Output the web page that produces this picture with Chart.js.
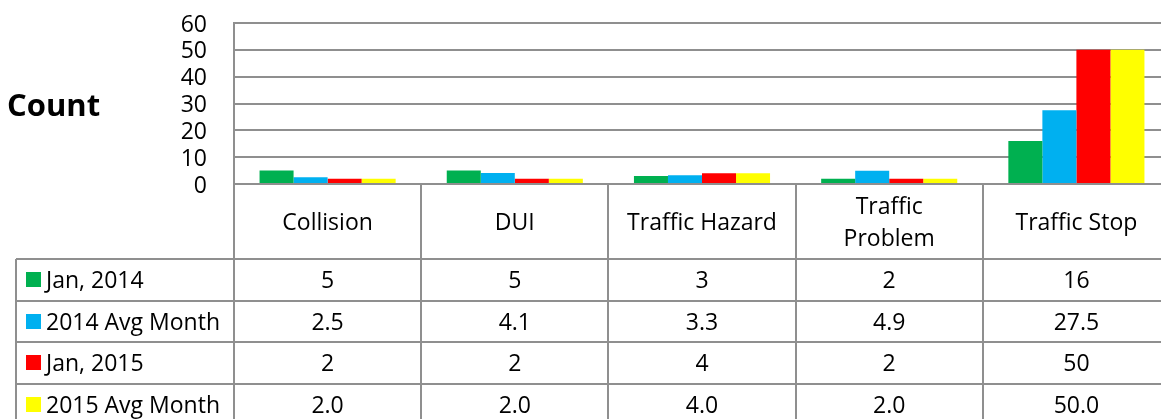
<!DOCTYPE html>
<html>
<head>
<meta charset="utf-8">
<script src="https://cdn.jsdelivr.net/npm/chart.js@4/dist/chart.umd.min.js"></script>
<style>
  html, body { margin: 0; padding: 0; background: #fff; overflow: hidden; }
  #wrap { width: 1161px; height: 419px; overflow: hidden; position: relative; }
  canvas { display: block; }
</style>
</head>
<body>
<div id="wrap"><canvas id="c" width="1170" height="419"></canvas></div>
<script>
// ---- data ----
const categories = ['Collision', 'DUI', 'Traffic Hazard', ['Traffic', 'Problem'], 'Traffic Stop'];
const seriesNames = ['Jan, 2014', '2014 Avg Month', 'Jan, 2015', '2015 Avg Month'];
const jan2014 = [5, 5, 3, 2, 16];
const avg2014 = [2.5, 4.1, 3.3, 4.9, 27.5];
const jan2015 = [2, 2, 4, 2, 50];
const avg2015 = [2.0, 2.0, 4.0, 2.0, 50.0];
const seriesDecimals = [0, 1, 0, 1];
const yTicks = [0, 10, 20, 30, 40, 50, 60];
const yTitle = 'Count';

// ---- styles ----
const seriesColors = ['#00B050', '#00B0F0', '#FF0000', '#FFFF00'];
const gridColor = '#8f8f8f';
const FONT = '"Open Sans", Lato, sans-serif';
const FS = 23;
const TEXT_DY = 2;

const seriesValues = [jan2014, avg2014, jan2015, avg2015];

const tablePlugin = {
  id: 'dataTable',
  afterDraw(chart) {
    const ctx = chart.ctx;
    const a = chart.chartArea;
    const xs = chart.scales.x;
    const n = categories.length;
    const cw = (a.right - a.left) / n;
    const headTop = a.bottom;
    const headBot = headTop + 75;
    const rowH = 41.5;
    const legLeft = 16;
    const tableBot = headBot + rowH * seriesNames.length;

    ctx.save();
    ctx.strokeStyle = gridColor;
    ctx.lineWidth = 2;
    ctx.beginPath();
    for (let i = 0; i <= n; i++) {
      const bx = Math.round(xs.getPixelForValue(i) - cw / 2);
      ctx.moveTo(bx, headTop);
      ctx.lineTo(bx, tableBot);
    }
    ctx.moveTo(legLeft, headBot);
    ctx.lineTo(legLeft, tableBot);
    for (let r = 0; r <= seriesNames.length; r++) {
      const y = Math.round(headBot + r * rowH);
      ctx.moveTo(legLeft, y);
      ctx.lineTo(a.right, y);
    }
    ctx.stroke();

    ctx.fillStyle = '#000';
    ctx.font = FS + 'px ' + FONT;
    ctx.textAlign = 'center';
    ctx.textBaseline = 'middle';
    const headMid = (headTop + headBot) / 2 + TEXT_DY;
    categories.forEach((c, i) => {
      const cx = xs.getPixelForValue(i);
      const lines = Array.isArray(c) ? c : [c];
      const lh = 32;
      lines.forEach((t, k) => {
        ctx.fillText(t, cx, headMid + (k - (lines.length - 1) / 2) * lh);
      });
    });
    seriesNames.forEach((name, r) => {
      const cy = headBot + r * rowH + rowH / 2;
      ctx.fillStyle = seriesColors[r];
      ctx.fillRect(26, Math.round(cy - 7.5), 15, 15);
      ctx.fillStyle = '#000';
      ctx.textAlign = 'left';
      ctx.fillText(name, 46, cy + TEXT_DY);
      ctx.textAlign = 'center';
      seriesValues[r].forEach((v, i) => {
        ctx.fillText(v.toFixed(seriesDecimals[r]), xs.getPixelForValue(i), cy + TEXT_DY);
      });
    });
    ctx.font = 'bold 31px ' + FONT;
    ctx.textAlign = 'left';
    ctx.fillText(yTitle, 7, 107);
    ctx.restore();
  }
};

new Chart(document.getElementById('c'), {
  type: 'bar',
  data: {
    labels: categories,
    datasets: seriesNames.map((name, i) => ({
      label: name,
      data: seriesValues[i],
      backgroundColor: seriesColors[i],
      borderWidth: 0,
      categoryPercentage: 0.727,
      barPercentage: 1.0
    }))
  },
  options: {
    responsive: false,
    devicePixelRatio: 1,
    animation: false,
    layout: { padding: { left: 0, right: 0, top: 23, bottom: 235 } },
    plugins: { legend: { display: false }, tooltip: { enabled: false } },
    scales: {
      x: { display: false },
      y: {
        min: yTicks[0],
        max: yTicks[yTicks.length - 1],
        afterFit(scale) {
          scale.width = 234;
          scale.paddingTop = 0;
          scale.paddingBottom = 0;
        },
        afterBuildTicks(scale) { scale.ticks = yTicks.map(v => ({ value: v })); },
        ticks: {
          autoSkip: false,
          color: '#000',
          padding: 27,
          labelOffset: TEXT_DY,
          font: { family: FONT, size: FS }
        },
        grid: { color: gridColor, lineWidth: 2, drawTicks: false },
        border: { display: true, color: gridColor, width: 2 }
      }
    }
  },
  plugins: [tablePlugin]
});
</script>
</body>
</html>
